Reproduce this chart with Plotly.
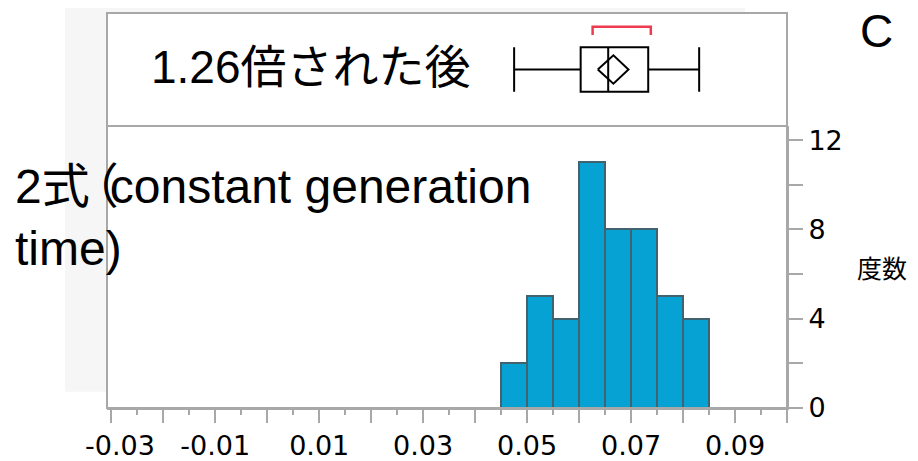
import plotly.graph_objects as go

# ---------------- data ----------------
bin_left = [0.045, 0.050, 0.055, 0.060, 0.065, 0.070, 0.075, 0.080]
counts = [2, 5, 4, 11, 8, 8, 5, 4]
bin_width = 0.005

whisker_low = 0.0475
q1 = 0.0603
median = 0.0656
q3 = 0.0733
whisker_high = 0.0831
mean = 0.0666
mean_ci = [0.0636, 0.0695]
shortest_half = [0.0626, 0.0738]

x_tickvals = [-0.03, -0.02, -0.01, 0.00, 0.01, 0.02, 0.03, 0.04, 0.05, 0.06, 0.07, 0.08, 0.09, 0.10]
x_ticktext = ["-0.03", "", "-0.01", "", "0.01", "", "0.03", "", "0.05", "", "0.07", "", "0.09", ""]
y_tickvals = [0, 2, 4, 6, 8, 10, 12]
y_ticktext = ["0", "", "4", "", "8", "", "12"]

group_label = "1.26倍された後"
row_label_parts = ["2", "式", "（", "constant generation", "time)"]
y_title = "度数"
panel_letter = "C"

# ---------------- layout geometry ----------------
# the page places the figure div with an 8px body margin
OX, OY = 8, 8
PAGE_W, PAGE_H = 918, 461
W, H = PAGE_W - OX, PAGE_H - OY
L, T = 107 - OX, 13 - OY
R, B = 131, 53
PW, PH = W - L - R, H - T - B


def px(xp):
    return (xp - OX - L) / PW


def py(yp):
    return (OY + T + PH - yp) / PH


split = py(126)

GRAY = "#a8a8a8"
BAR = "#06a2d3"
BAR_LINE = "#41626f"
RED = "#ee3a4f"
LAT = "Liberation Sans, Arial, Noto Sans CJK JP"
TICKF = "DejaVu Sans, Verdana"

fig = go.Figure()

# histogram
fig.add_trace(go.Bar(
    x=[b + bin_width / 2 for b in bin_left], y=counts, width=bin_width,
    marker=dict(color=BAR, line=dict(color=BAR_LINE, width=2)),
    xaxis="x", yaxis="y", showlegend=False, hoverinfo="skip",
))

# box plot (outlier box)
fig.add_trace(go.Box(
    y=[0], q1=[q1], median=[median], q3=[q3],
    lowerfence=[whisker_low], upperfence=[whisker_high],
    orientation="h", width=0.784, whiskerwidth=1,
    fillcolor="rgba(255,255,255,0)", line=dict(color="black", width=2),
    boxpoints=False, xaxis="x", yaxis="y2", showlegend=False, hoverinfo="skip",
))

# mean diamond
dh = 0.25
fig.add_trace(go.Scatter(
    x=[mean_ci[0], mean, mean_ci[1], mean, mean_ci[0]],
    y=[0, dh, 0, -dh, 0], mode="lines",
    line=dict(color="black", width=2), xaxis="x", yaxis="y2",
    showlegend=False, hoverinfo="skip",
))

# shortest half bracket
fig.add_trace(go.Scatter(
    x=[shortest_half[0], shortest_half[0], shortest_half[1], shortest_half[1]],
    y=[0.61, 0.757, 0.757, 0.61], mode="lines",
    line=dict(color=RED, width=2.5), xaxis="x", yaxis="y2",
    showlegend=False, hoverinfo="skip",
))

shapes = [
    # gray background region
    dict(type="rect", xref="paper", yref="paper", x0=px(65), x1=px(745), y0=py(391.7), y1=py(0),
         fillcolor="#f6f6f6", line=dict(width=0), layer="below"),
    # white plot area
    dict(type="rect", xref="paper", yref="paper", x0=0, x1=1, y0=0, y1=1,
         fillcolor="white", line=dict(width=0), layer="below"),
    # frame
    dict(type="rect", xref="paper", yref="paper", x0=0, x1=1, y0=0, y1=1,
         line=dict(color=GRAY, width=2), fillcolor="rgba(0,0,0,0)", layer="above"),
    dict(type="line", xref="paper", yref="paper", x0=0, x1=1, y0=split, y1=split,
         line=dict(color=GRAY, width=2), layer="above"),
]

p = row_label_parts
row_label = (p[0] + "<span style='letter-spacing:-19px'>" + p[1] + "</span>"
             + "<span style='letter-spacing:-9px'>" + p[2] + "</span>"
             + p[3] + "<br>" + p[4])

# the first x label is nudged right so it stays inside the frame (as in the original)
x_ticktext_shown = list(x_ticktext)
x_ticktext_shown[0] = "\u00a0\u00a0" + x_ticktext_shown[0]

annotations = [
    dict(text=group_label, xref="paper", yref="paper", x=px(149), y=py(67), xanchor="left",
         yanchor="middle", showarrow=False, font=dict(family=LAT, size=46, color="black")),
    dict(text=row_label, xref="paper", yref="paper", x=px(13), y=py(158), xanchor="left",
         yanchor="top", align="left", showarrow=False,
         font=dict(family=LAT, size=48, color="black")),
    dict(text=y_title, xref="paper", yref="paper", x=px(882), y=py(267), xanchor="center",
         yanchor="middle", showarrow=False,
         font=dict(family="Noto Sans CJK JP", size=25, color="black")),
    dict(text=panel_letter, xref="paper", yref="paper", x=px(876), y=py(31), xanchor="center",
         yanchor="middle", showarrow=False, font=dict(family=LAT, size=46, color="black")),
]

fig.update_layout(
    width=W, height=H,
    margin=dict(l=L, r=R, t=T, b=B, pad=0, autoexpand=False),
    paper_bgcolor="white", plot_bgcolor="rgba(0,0,0,0)",
    bargap=0, showlegend=False,
    shapes=shapes, annotations=annotations,
    xaxis=dict(
        range=[-0.03083, 0.10], anchor="y", showgrid=False, zeroline=False,
        automargin=False,
        showline=True, linecolor=GRAY, linewidth=2,
        tickmode="array", tickvals=x_tickvals, ticktext=x_ticktext_shown,
        ticks="outside", ticklen=13, tickwidth=2, tickcolor=GRAY,
        tickfont=dict(family=TICKF, size=27, color="black"),
        minor=dict(tickmode="linear", tick0=0, dtick=0.005, ticks="outside",
                   ticklen=5, tickwidth=2, tickcolor=GRAY, showgrid=False),
        fixedrange=True,
    ),
    yaxis=dict(
        domain=[0, split], range=[0, 12.63], anchor="x", side="right",
        automargin=False,
        showgrid=False, zeroline=False, showline=True, linecolor=GRAY, linewidth=2,
        tickmode="array", tickvals=y_tickvals, ticktext=y_ticktext,
        ticks="outside", ticklen=14, tickwidth=2, tickcolor=GRAY,
        ticklabelstandoff=0,
        tickfont=dict(family=TICKF, size=27, color="black"),
        fixedrange=True,
    ),
    yaxis2=dict(
        domain=[split, 1], range=[-1, 1], anchor="x", type="linear",
        automargin=False, visible=False, fixedrange=True,
    ),
)

fig.write_html("out.html")
